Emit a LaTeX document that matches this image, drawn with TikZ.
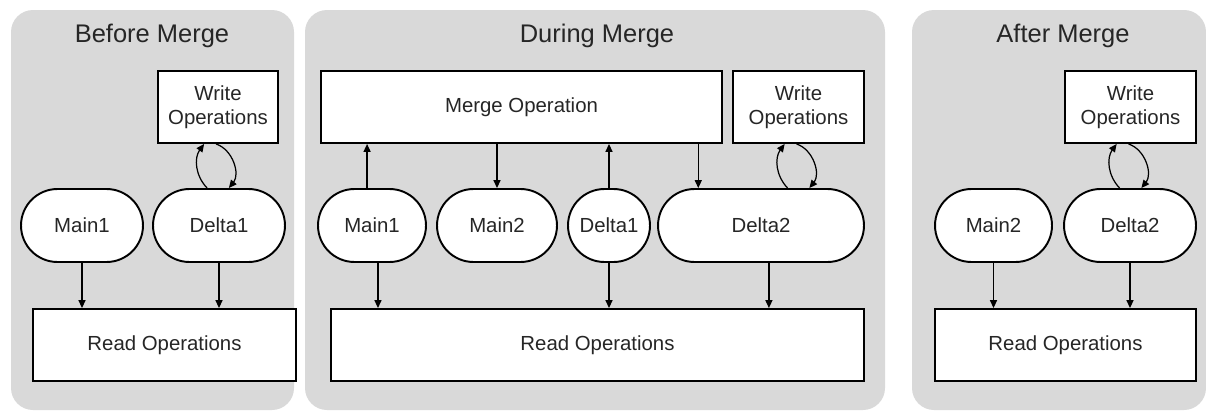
\documentclass[tikz,border=0pt]{standalone}
\usepackage{fontspec}
\setmainfont{Liberation Sans}
\usepackage{tikz}
\usetikzlibrary{calc,arrows.meta,shapes.misc}
\definecolor{panelGray}{RGB}{217,217,217}
\definecolor{txtGray}{RGB}{38,38,38}

\tikzset{
  panel/.style={fill=panelGray, rounded corners=0.44cm},
  paneltitle/.style={anchor=base, text=txtGray, font=\fontsize{14.5}{17}\selectfont},
  opbox/.style={draw, line width=1.1pt, fill=white, text=txtGray, minimum height=1.44cm,
    inner sep=0pt, align=center, font=\fontsize{11.6}{13.6}\selectfont},
  store/.style={opbox, rounded rectangle, minimum height=1.46cm},
  arr/.style={-{Triangle[length=4.5pt,width=4pt]}, line width=0.7pt},
}

\begin{document}
\begin{tikzpicture}[x=0.02cm, y=0.02cm]
\useasboundingbox (0,0) rectangle (1206,410);
% gray panels
\fill[panel] (11,0) rectangle (294,400);
\fill[panel] (305,0) rectangle (885,400);
\fill[panel] (912,0) rectangle (1206,400);

% before merge
\node[paneltitle] (t1) at (152,368) {Before Merge};
\node[opbox, minimum width=2.4cm] (w1) at (218,303) {Write\\Operations};
\node[store, minimum width=2.44cm] (m1) at (82,184.5) {Main1};
\node[store, minimum width=2.64cm] (d1) at (219,184.5) {Delta1};
\node[opbox, minimum width=5.26cm] (r1) at (164.5,65) {Read Operations};

% during merge
\node[paneltitle] (t2) at (597,368) {During Merge};
\node[opbox, minimum width=8.02cm] (mo) at (521.5,303) {Merge Operation};
\node[opbox, minimum width=2.62cm] (w2) at (798.5,303) {Write\\Operations};
\node[store, minimum width=2.16cm] (m2a) at (372,184.5) {Main1};
\node[store, minimum width=2.4cm] (m2b) at (497,184.5) {Main2};
\node[store, minimum width=1.64cm] (d2a) at (609,184.5) {Delta1};
\node[store, minimum width=4.12cm] (d2b) at (761,184.5) {Delta2};
\node[opbox, minimum width=10.66cm] (r2) at (597.5,65) {Read Operations};

% after merge
\node[paneltitle] (t3) at (1063,368) {After Merge};
\node[opbox, minimum width=2.62cm] (w3) at (1130.5,303) {Write\\Operations};
\node[store, minimum width=2.34cm] (m3) at (993.5,184.5) {Main2};
\node[store, minimum width=2.64cm] (d3) at (1130,184.5) {Delta2};
\node[opbox, minimum width=5.22cm] (r3) at (1065.5,65) {Read Operations};

% reads
\foreach \s/\r in {m1/r1, d1/r1, d2a/r2, m3/r3, d3/r3}
  \draw[arr] (\s.south) -- (\s.south |- \r.north);
\draw[arr] ([xshift=3.4pt]m2a.south) -- ([xshift=3.4pt]m2a.south |- r2.north);
\draw[arr] ([xshift=4.5pt]d2b.south) -- ([xshift=4.5pt]d2b.south |- r2.north);

% merge in / out
\draw[arr] ([xshift=-2.8pt]m2a.north) -- ([xshift=-2.8pt]m2a.north |- mo.south);
\draw[arr] (d2a.north) -- (d2a.north |- mo.south);
\draw[arr] (m2b.north |- mo.south) -- (m2b.north);
\draw[arr] ([xshift=-35.7pt]d2b.north |- mo.south) -- ([xshift=-35.7pt]d2b.north);

% writes
\foreach \w/\d in {w1/d1, w2/d2b, w3/d3} {
  \draw[arr] ([xshift=-6.2pt]\w.south |- \d.north) to[bend left=40] ([xshift=-7.9pt]\w.south);
  \draw[arr] ([xshift=-1.1pt]\w.south) to[bend left=55] ([xshift=6.2pt]\w.south |- \d.north);
}
\end{tikzpicture}
\end{document}
